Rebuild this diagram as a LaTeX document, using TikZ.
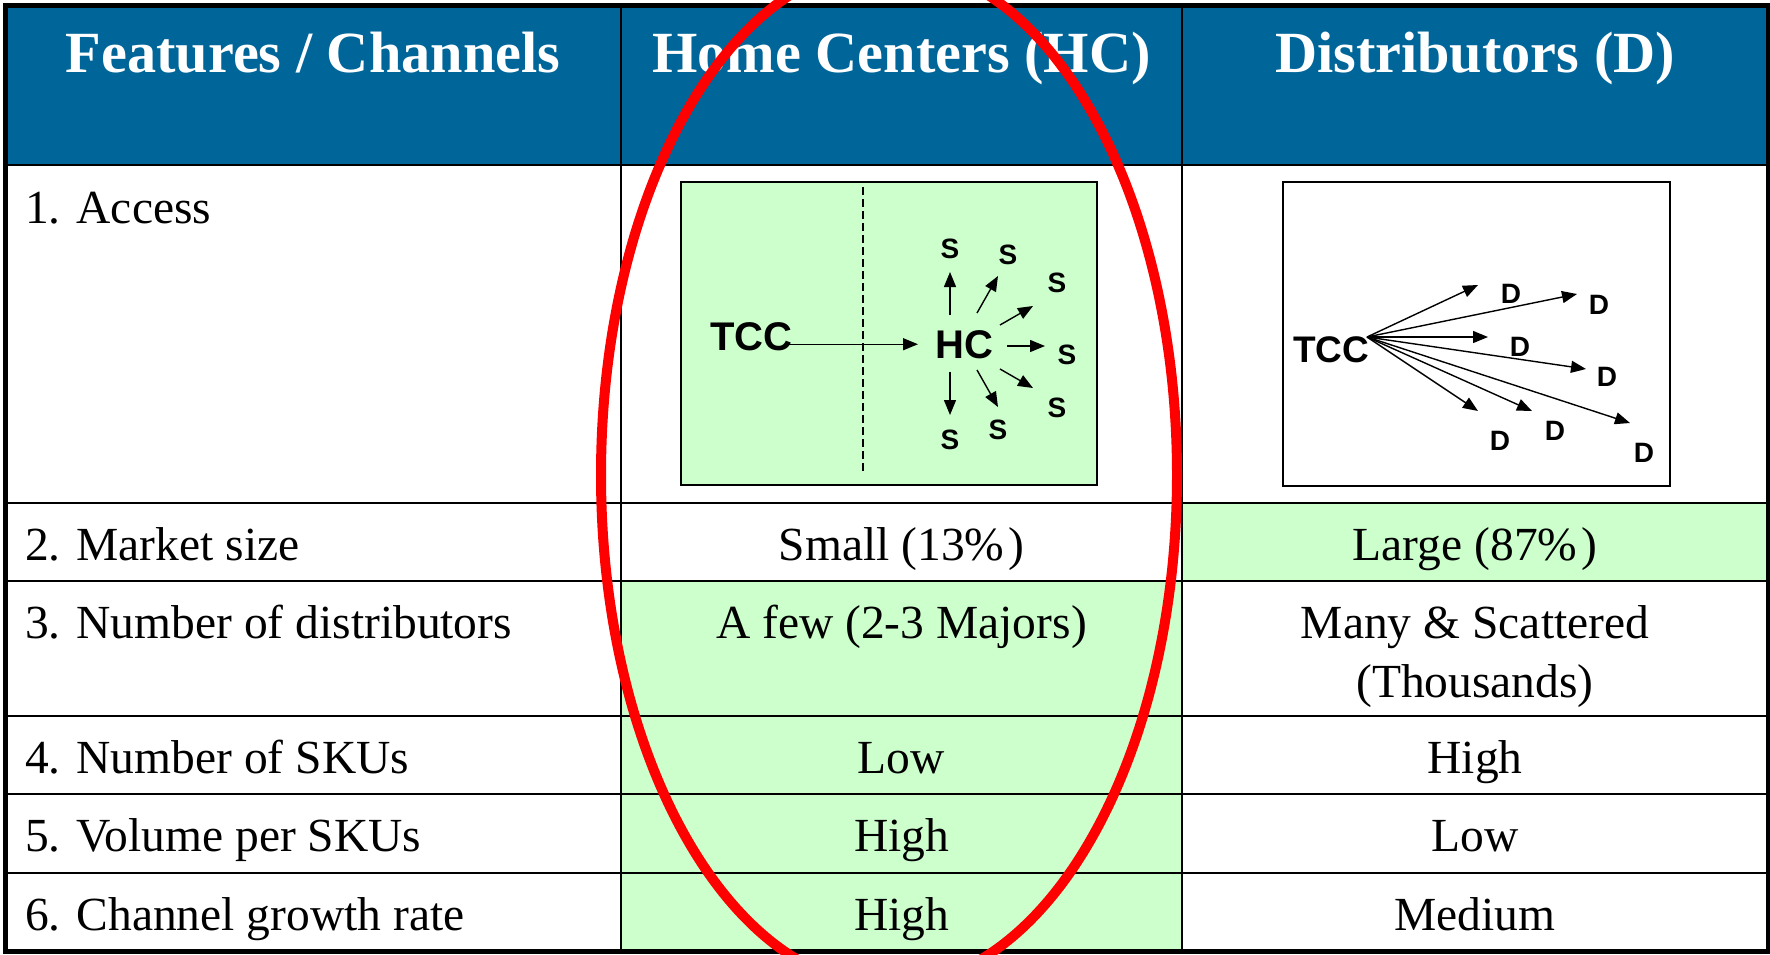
\documentclass[tikz,border=0pt]{standalone}
\usepackage{fontspec}
\setmainfont{Liberation Serif}
\newfontfamily\labelfont{Liberation Sans}
\usetikzlibrary{arrows.meta}
\definecolor{headblue}{RGB}{0,102,153}
\definecolor{palegreen}{RGB}{204,255,204}

\begin{document}
\begin{tikzpicture}[x=1pt,y=-1pt,
  gridline/.style={line width=2.5pt, black},
  headtext/.style={anchor=base, inner sep=0pt, text=white,
    font=\fontsize{58.3}{62}\selectfont\bfseries},
  rowlabel/.style={anchor=base west, inner sep=0pt,
    font=\fontsize{47.5}{53}\selectfont},
  cellval/.style={anchor=base, inner sep=0pt,
    font=\fontsize{47.5}{53}\selectfont},
  bigtag/.style={inner sep=0pt, font=\labelfont\bfseries\fontsize{40}{40}\selectfont},
  dtcc/.style={inner sep=0pt, font=\labelfont\bfseries\fontsize{37}{37}\selectfont},
  stag/.style={inner sep=0pt, font=\labelfont\bfseries\fontsize{28}{28}\selectfont},
  dtag/.style={inner sep=0pt, font=\labelfont\bfseries\fontsize{28}{28}\selectfont},
  arr/.style={line width=1.4pt, -{Triangle[length=15pt,width=12pt]}},
  frame/.style={line width=1.6pt, black}
]
\clip (0,0) rectangle (1770,954);
\fill[white] (0,0) rectangle (1770,954);

% header band and highlighted cells
\fill[headblue] (5,5) rectangle (1768,165);
\fill[palegreen] (621,581) rectangle (1182,951);
\fill[palegreen] (1182,503) rectangle (1768,581);

% table rules
\foreach \yy in {165,503,581,716,794,873}
  \draw[gridline] (5,\yy) -- (1768,\yy);
\foreach \xx in {621,1182}
  \draw[gridline] (\xx,5) -- (\xx,951);
\draw[line width=5pt] (5,5.5) rectangle (1768,951.5);

% header texts
\node[headtext] (h1) at (313,72) {Features / Channels};
\node[headtext] (h2) at (901.5,72) {Home Centers (HC)};
\node[headtext] (h3) at (1475,72) {Distributors (D)};

% row labels
\node[rowlabel] (r1) at (25,223) {1. Access};
\node[rowlabel] (r2) at (25,560) {2. Market size};
\node[rowlabel] (r3) at (25,638) {3. Number of distributors};
\node[rowlabel] (r4) at (25,773) {4. Number of SKUs};
\node[rowlabel] (r5) at (25,851) {5. Volume per SKUs};
\node[rowlabel] (r6) at (25,930) {6. Channel growth rate};

% Home Centers column
\node[cellval] (hc2) at (901.5,560) {Small (13\%\kern4pt)};
\node[cellval] (hc3) at (901.5,638) {A few (2-3 Majors)};
\node[cellval] (hc4) at (901.5,773) {Low};
\node[cellval] (hc5) at (901.5,851) {High};
\node[cellval] (hc6) at (901.5,930) {High};

% Distributors column
\node[cellval] (d2) at (1475,560) {Large (87\%\kern4pt)};
\node[cellval] (d3a) at (1475,638) {Many \& Scattered};
\node[cellval] (d3b) at (1475,697) {(Thousands)};
\node[cellval] (d4) at (1475,773) {High};
\node[cellval] (d5) at (1475,851) {Low};
\node[cellval] (d6) at (1475,930) {Medium};

% access diagram: home centers
\draw[frame, fill=palegreen] (681,182) rectangle (1097,485);
\draw[line width=1.5pt, dash pattern=on 8pt off 4pt] (863,187) -- (863,473);
\node[bigtag, anchor=base west] (tcc) at (710,350) {TCC};
\node[bigtag, anchor=base west] (hc) at (935,358) {HC};
\draw[arr, shorten <=-7pt, shorten >=17pt] (tcc.east |- hc.west) -- (hc.west);
\foreach \i/\sx/\sy in {1/950/249, 2/1008/255, 3/1057/283, 4/1067/355,
                        5/1057/408, 6/998/430, 7/950/440}
  \node[stag] (s\i) at (\sx,\sy) {S};
\foreach \i/\ax/\ay/\bx/\by in {1/950/315/950/272, 2/977/313/998/276,
    3/1000/325/1033/306, 4/1007/346/1045/346, 5/1000/369/1033/388,
    6/977/370/998/407, 7/950/372/950/415} {
  \coordinate (st\i) at (\ax,\ay);
  \coordinate (sp\i) at (\bx,\by);
  \draw[arr] (st\i) -- (sp\i);
}

% access diagram: distributors
\draw[frame, fill=white] (1283,182) rectangle (1670,486);
\node[dtcc, anchor=base west] (tccd) at (1293,362) {TCC};
\coordinate (src) at (1367,337);
\foreach \i/\dx/\dy in {1/1511/294, 2/1599/305, 3/1520/347, 4/1607/377,
                        5/1500/441, 6/1555/431, 7/1644/453}
  \node[dtag] (dd\i) at (\dx,\dy) {D};
\foreach \i/\tx/\ty in {1/1478/285, 2/1577/294, 3/1488/337, 4/1586/369,
                        5/1478/411, 6/1532/411, 7/1630/423} {
  \coordinate (dt\i) at (\tx,\ty);
  \draw[arr] (src) -- (dt\i);
}

% highlight ring round the home centers column
\draw[red, line width=10pt] (889,475) ellipse [x radius=288, y radius=511];
\end{tikzpicture}
\end{document}
